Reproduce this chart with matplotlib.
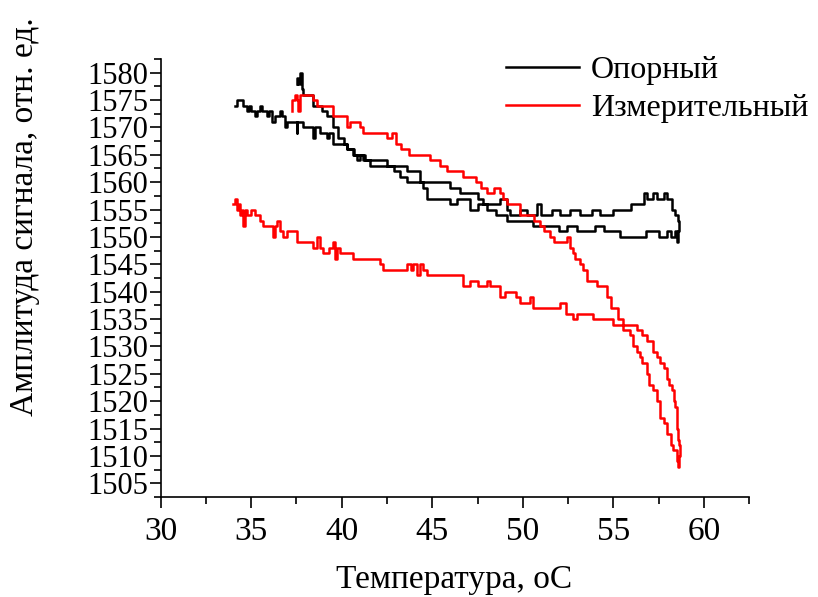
import matplotlib
matplotlib.use("Agg")
import matplotlib.pyplot as plt
from matplotlib.ticker import MultipleLocator

plt.rcParams['font.family'] = ['Liberation Serif', 'DejaVu Serif']

# "Опорный": heating branch (from 34 C) then cooling branch back to 37.6 C
ref_x = [34.1, 34.2, 34.38, 34.56, 34.75, 34.9, 35.0, 35.21, 35.3, 35.49, 35.6, 35.86, 36.0, 36.13, 36.3,
         36.59, 36.7, 36.87, 36.96, 37.3, 37.51, 37.55, 37.88, 38.2, 38.43, 38.5, 38.8, 39.17, 39.3, 39.54,
         39.9, 40.28, 40.6, 40.83, 41.0, 41.3, 41.75, 42.1, 42.49, 42.9, 43.22, 43.59, 44.14, 44.5, 44.7,
         45.06, 45.43, 46.0, 46.35, 47.09, 47.5, 48.0, 48.5, 49.12, 49.85, 50.59, 51.5, 52.0, 52.43, 53.0,
         53.54, 54.0, 54.5, 55.0, 55.38, 56.0, 56.49, 56.8, 57.21, 57.5, 57.96, 58.2, 58.4, 58.51, 58.6,
         58.65, 58.65, 58.6, 58.41, 58.23, 57.96, 57.8, 57.59, 57.4, 57.2, 56.85, 56.7, 56.49, 56.0, 55.38,
         55.0, 54.27, 53.8, 53.17, 52.6, 52.06, 51.6, 51.14, 51.0, 50.8, 50.22, 49.85, 49.3, 49.12, 48.75,
         47.82, 47.5, 46.9, 46.54, 46.0, 45.43, 44.88, 44.7, 44.33, 43.96, 43.59, 43.22, 42.85, 42.5, 41.9,
         41.56, 41.2, 40.65, 40.3, 40.1, 39.8, 39.54, 39.2, 38.9, 38.43, 38.1, 37.88, 37.79, 37.7, 37.6, 37.54]
ref_y = [1574, 1575, 1575, 1574, 1573, 1574, 1573, 1572, 1573, 1574, 1573, 1572, 1573, 1571, 1572,
         1573, 1572, 1570, 1571, 1571, 1569, 1571, 1570, 1570, 1568, 1570, 1569, 1568, 1569, 1567,
         1567, 1566, 1565, 1564, 1565, 1564, 1564, 1564, 1563, 1562, 1561, 1560, 1560, 1559, 1557,
         1557, 1557, 1556, 1557, 1555, 1556, 1555, 1554, 1553, 1553, 1552, 1552, 1551, 1552, 1551,
         1551, 1552, 1551, 1551, 1550, 1550, 1550, 1551, 1551, 1550, 1551, 1550, 1551, 1549, 1551,
         1552, 1553, 1554, 1555, 1557, 1558, 1557, 1557, 1558, 1557, 1558, 1556, 1556, 1555, 1555,
         1554, 1555, 1554, 1555, 1554, 1555, 1554, 1554, 1556, 1554, 1555, 1554, 1555, 1557, 1556,
         1557, 1558, 1558, 1559, 1560, 1560, 1560, 1560, 1562, 1562, 1563, 1563, 1563, 1563, 1563,
         1564, 1565, 1566, 1567, 1568, 1570, 1572, 1573, 1574, 1576, 1576, 1577, 1580, 1578, 1579, 1578]

# "Измерительный": lower branch, outer curve down, inner curve up, upper branch back
meas_x = [34.01, 34.1, 34.2, 34.3, 34.38, 34.5, 34.56, 34.65, 34.75, 35.0, 35.2, 35.39, 35.5, 35.67, 36.04,
          36.22, 36.3, 36.41, 36.6, 36.77, 37.0, 37.33, 37.51, 38.25, 38.43, 38.62, 38.8, 38.98, 39.3, 39.54,
          39.63, 39.75, 39.91, 40.3, 40.64, 41.0, 41.5, 42.1, 42.3, 43.04, 43.22, 43.6, 43.8, 43.96, 44.14,
          44.3, 44.5, 44.7, 44.88, 45.98, 46.54, 46.72, 47.1, 47.5, 48.0, 48.2, 48.56, 48.75, 49.0, 49.3,
          49.6, 49.85, 50.2, 50.4, 50.59, 51.0, 51.3, 51.88, 52.06, 52.24, 52.4, 52.61, 52.8, 53.0, 53.54,
          53.9, 54.27, 54.45, 54.82, 55.0, 55.4, 55.93, 56.3, 56.6, 56.85, 57.21, 57.4, 57.59, 57.8, 57.96,
          58.1, 58.23, 58.35, 58.41, 58.5, 58.54, 58.6, 58.65, 58.7, 58.65,
          58.6, 58.5, 58.32, 58.2, 57.96, 57.8, 57.59, 57.4, 57.21, 57.0, 56.85, 56.6, 56.48, 56.3, 56.11,
          55.93, 55.56, 55.28, 54.9, 54.64, 54.45, 54.09, 53.9, 53.54, 53.35, 53.17, 52.9, 52.8, 52.61, 52.43,
          52.0, 51.7, 51.51, 51.2, 50.96, 50.6, 50.22, 49.85, 49.5, 49.12, 48.9, 48.75, 48.4, 48.0, 47.7,
          47.4, 47.09, 46.72, 46.2, 45.8, 45.43, 45.0, 44.88, 44.5, 43.96, 43.7, 43.59, 43.3, 43.0, 42.8,
          42.5, 42.1, 41.6, 41.2, 41.0, 40.7, 40.46, 40.28, 40.0, 39.54, 39.0, 38.62, 38.43, 38.0, 37.7,
          37.6, 37.51, 37.4, 37.33, 37.24]
meas_y = [1556, 1557, 1555, 1556, 1554, 1555, 1552, 1555, 1554, 1555, 1554, 1554, 1553, 1552, 1552,
          1550, 1552, 1553, 1551, 1550, 1551, 1551, 1549, 1549, 1548, 1550, 1548, 1547, 1548, 1549,
          1546, 1548, 1547, 1547, 1546, 1546, 1546, 1545, 1544, 1544, 1544, 1545, 1544, 1545, 1543,
          1545, 1544, 1543, 1543, 1543, 1543, 1541, 1542, 1541, 1542, 1541, 1541, 1539, 1540, 1540,
          1539, 1538, 1538, 1539, 1537, 1537, 1537, 1537, 1538, 1538, 1536, 1536, 1535, 1536, 1536,
          1535, 1535, 1535, 1535, 1534, 1534, 1534, 1533, 1532, 1531, 1529, 1528, 1527, 1526, 1524,
          1523, 1522, 1520, 1519, 1517, 1515, 1513, 1512, 1510, 1508,
          1509, 1511, 1512, 1514, 1516, 1517, 1520, 1522, 1523, 1525, 1527, 1528, 1529, 1530, 1532,
          1533, 1535, 1537, 1539, 1541, 1541, 1542, 1542, 1544, 1545, 1546, 1547, 1548, 1550, 1549,
          1549, 1550, 1551, 1552, 1553, 1554, 1554, 1556, 1556, 1557, 1558, 1559, 1558, 1559, 1560,
          1561, 1561, 1562, 1562, 1563, 1564, 1564, 1565, 1565, 1565, 1566, 1566, 1567, 1569, 1568,
          1569, 1569, 1569, 1570, 1571, 1571, 1570, 1572, 1572, 1574, 1574, 1575, 1576, 1576, 1573,
          1575, 1576, 1575, 1575, 1573]

fig = plt.figure(figsize=(8.18, 5.97), dpi=100)
ax = fig.add_axes([0.1965, 0.1675, 0.7192, 0.7337])

ax.plot(ref_x, ref_y, color='black', lw=1.8, drawstyle='steps-post', label='Опорный')
ax.plot(meas_x, meas_y, color='red', lw=1.8, drawstyle='steps-post', label='Измерительный')

ax.set_xlim(30, 62.5)
ax.set_ylim(1502.5, 1582.5)
ax.xaxis.set_major_locator(MultipleLocator(5))
ax.xaxis.set_minor_locator(MultipleLocator(2.5))
ax.yaxis.set_major_locator(MultipleLocator(5))
ax.yaxis.set_minor_locator(MultipleLocator(2.5))
ax.spines['top'].set_visible(False)
ax.spines['right'].set_visible(False)
ax.tick_params(which='major', direction='out', length=8, width=1.2, labelsize=22)
ax.tick_params(which='minor', direction='out', length=5, width=1.2)
ax.tick_params(axis='y', pad=1)
ax.tick_params(axis='x', pad=6, labelsize=24)
for s in ['left', 'bottom']:
    ax.spines[s].set_linewidth(1.2)

ax.set_xlabel('Температура, oC', fontsize=24)
ax.set_ylabel('Амплитуда сигнала, отн. ед.', fontsize=24)
ax.xaxis.set_label_coords(0.498, -0.155)
ax.yaxis.set_label_coords(-0.205, 0.64)

ax.legend(loc='upper left', bbox_to_anchor=(506 / 818, 1 - 56 / 597), bbox_transform=fig.transFigure,
          frameon=False, fontsize=23, handlelength=2.3, handletextpad=0.35, labelspacing=0.25,
          borderpad=0, borderaxespad=0)

fig.savefig('out.png', dpi=100)
